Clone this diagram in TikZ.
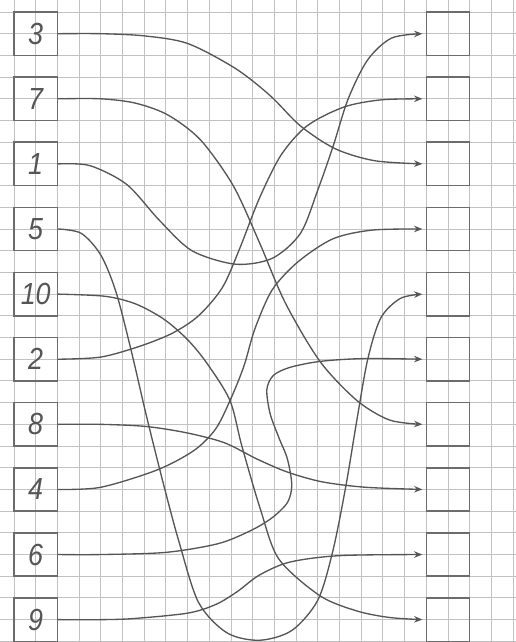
\documentclass[tikz,border=0pt]{standalone}
\usepackage{fontspec}
\setmainfont{Liberation Sans}
\newfontfamily\handfont[FakeStretch=0.88]{Liberation Sans}
\usepackage{xcolor}
\usepackage{tikz}
\usetikzlibrary{arrows.meta}
\definecolor{pencil}{HTML}{555555}
\definecolor{gridgray}{HTML}{c2c2c2}
\definecolor{boxgray}{HTML}{6c6c6c}

\tikzset{
  numbox/.style={draw=boxgray,line width=1.2pt,minimum size=1.2cm,inner sep=0pt,
    text=pencil,font=\handfont\fontsize{24}{24}\selectfont\itshape},
  emptybox/.style={draw=boxgray,line width=1.2pt,minimum size=1.2cm,inner sep=0pt},
  wire/.style={draw=pencil,line width=1.05pt},
  gridline/.style={gridgray,line width=0.75pt}
}

\begin{document}
\begin{tikzpicture}[x=0.6cm,y=-0.6cm,>={Stealth[length=2.3mm,width=1.8mm]}]
\useasboundingbox (-0.645,-0.553) rectangle (23.13,29.03);
% ---------- squared paper ----------
\foreach \gx in {0,...,23} \draw[gridline] (\gx,-0.553) -- (\gx,29.03);
\foreach \gy in {0,...,29} \draw[gridline] (-0.645,\gy) -- (23.13,\gy);
% ---------- boxes ----------
\foreach \lbl [count=\i from 0] in {3,7,1,5,10,2,8,4,6,9}
  \node[numbox] (l\lbl) at (1,3*\i+1) {\lbl};
\foreach \i in {1,...,10}
  \node[emptybox] (r\i) at (20,3*\i-2) {};
% ---------- connectors ----------
\draw[wire,->] plot[smooth] coordinates {(l3.east) (4,1.0) (6,1.1) (8.0,1.45)
  (10.2,2.6) (11.8,3.85) (13.2,5.25) (14.8,6.3) (16.6,6.85) ([xshift=-2.5pt]r3.west)};
\draw[wire,->] plot[smooth] coordinates {(l7.east) (4,4.0) (5.6,4.2) (7.1,4.75) (8.6,5.9)
  (10.1,8.0) (11.3,10.6) (12.5,13.4) (14.1,16.1) (15.8,17.9) (17.3,18.8) ([xshift=-2.5pt]r7.west)};
\draw[wire,->] plot[smooth] coordinates {(l1.east) (3.5,7.08) (5.2,7.95) (6.7,9.6) (8.2,11.0)
  (10.2,11.62) (11.9,11.35) (13.2,10.2) (14.0,8.2) (14.7,6.2) (15.4,4.0) (16.3,2.2)
  (17.4,1.2) ([xshift=-2.5pt]r1.west)};
\draw[wire,->] plot[smooth] coordinates {(l5.east) (3.1,10.2) (4.0,11.2) (4.7,12.9) (5.4,15.6)
  (6.1,18.6) (6.9,21.8) (7.6,24.4) (8.5,27.2) (9.8,28.6) (11.3,28.95) (12.8,28.5) (14.0,27.1)
  (14.7,24.8) (15.3,21.8) (15.8,18.8) (16.3,16.0) (16.9,14.1) (17.8,13.2) ([xshift=-2.5pt]r5.west)};
\draw[wire,->] plot[smooth] coordinates {(l10.east) (4.2,13.1) (5.6,13.45) (6.9,14.15) (8.0,15.1)
  (8.9,16.2) (9.95,17.9) (10.5,20.0) (11.35,22.9) (12.2,25.2) (14.1,26.9) (15.8,27.6)
  (17.3,27.9) ([xshift=-2.5pt]r10.west)};
\draw[wire,->] plot[smooth] coordinates {(l2.east) (4,15.9) (5.8,15.4) (7.3,14.8) (8.5,14.0)
  (9.6,12.7) (10.4,10.9) (11.3,8.6) (12.3,6.6) (13.5,5.25) (15.2,4.38) (16.9,4.05)
  ([xshift=-2.5pt]r2.west)};
\draw[wire,->] plot[smooth] coordinates {(l8.east) (4,19) (6.1,19.1) (8,19.4) (9.7,19.85)
  (11.2,20.6) (12.6,21.2) (14.2,21.65) (16.2,21.9) ([xshift=-2.5pt]r8.west)};
\draw[wire,->] plot[smooth] coordinates {(l4.east) (4,21.9) (6.6,21.1) (8.3,20.2) (9.3,19.2)
  (10,17.8) (10.6,16.3) (11.1,14.6) (11.9,12.8) (13.1,11.5) (14.7,10.45) (16.5,10.05)
  ([xshift=-2.5pt]r4.west)};
\draw[wire,->] plot[smooth] coordinates {(l6.east) (4,25) (7,24.9) (9.4,24.5) (10.9,23.9)
  (11.9,23.3) (12.6,22.6) (12.8,21.8) (12.6,20.6) (12.2,19.6) (11.8,18.5) (11.65,17.4)
  (11.95,16.75) (12.7,16.38) (14.1,16.1) (16.1,15.97) ([xshift=-2.5pt]r6.west)};
\draw[wire,->] plot[smooth] coordinates {(l9.east) (4,28) (5.5,27.95) (8,27.7) (9.3,27.3)
  (10.3,26.7) (11.3,25.95) (12.7,25.35) (15,25.05) ([xshift=-2.5pt]r9.west)};
\end{tikzpicture}
\end{document}
